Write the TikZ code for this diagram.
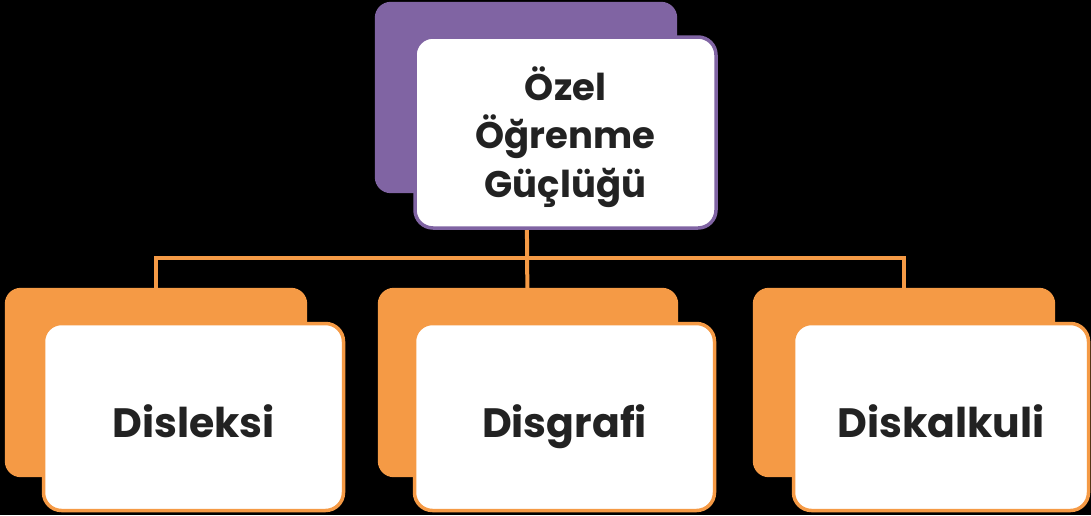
\documentclass[tikz,border=0pt]{standalone}
\usepackage{fontspec}
\setmainfont{Poppins}
\definecolor{purp}{HTML}{8064A3}
\definecolor{orng}{HTML}{F59A45}
\definecolor{ink}{HTML}{222222}
\begin{document}
\begin{tikzpicture}[x=1pt,y=-1pt,
  shadowbox/.style={rectangle, rounded corners=16pt, inner sep=0pt},
  whitebox/.style={rectangle, rounded corners=18pt, fill=white, inner sep=0pt, line width=3.5pt, text=ink, font=\bfseries\fontsize{41}{49}\selectfont, align=center},
  leaf/.style={whitebox, draw=orng, minimum height=187pt, text height=60pt, text depth=20pt},
  toptext/.style={text=ink, font=\bfseries\fontsize{37}{48.5}\selectfont, align=center, inner sep=0pt},
  link/.style={draw=orng, line width=4pt}]
\fill[black] (0,0) rectangle (1091,515);
\useasboundingbox (0,0) rectangle (1091,515);
\coordinate (bus) at (0,258);
\node[shadowbox, minimum width=302pt, minimum height=191pt] (topsh) at (526,97.5) {};
\node[shadowbox, minimum width=302pt, minimum height=189pt] (leftsh) at (156,382.5) {};
\node[shadowbox, minimum width=300pt, minimum height=189pt] (midsh) at (528,382.5) {};
\node[shadowbox, minimum width=302pt, minimum height=189pt] (rightsh) at (904,382.5) {};
% connectors
\draw[link] (topsh.center) -- (midsh.center);
\draw[link] (leftsh.center) -- (leftsh.center |- bus) -- (rightsh.center |- bus) -- (rightsh.center);
% shadows
\fill[purp, rounded corners=16pt] (topsh.south west) rectangle (topsh.north east);
\fill[orng, rounded corners=16pt] (leftsh.south west) rectangle (leftsh.north east);
\fill[orng, rounded corners=16pt] (midsh.south west) rectangle (midsh.north east);
\fill[orng, rounded corners=16pt] (rightsh.south west) rectangle (rightsh.north east);
% white boxes
\node[whitebox, draw=purp, minimum width=301pt, minimum height=191pt] (top) at (565.5,132.5) {};
\node[toptext, anchor=base] (toplabel) at (565.5,197) {Özel\\Öğrenme\\Güçlüğü};
\node[leaf, minimum width=300pt] (dis) at (193.5,417) {Disleksi};
\node[leaf, minimum width=300pt] (disg) at (564.5,417) {Disgrafi};
\node[leaf, minimum width=295pt] (disk) at (941,417) {Diskalkuli};
\end{tikzpicture}
\end{document}
